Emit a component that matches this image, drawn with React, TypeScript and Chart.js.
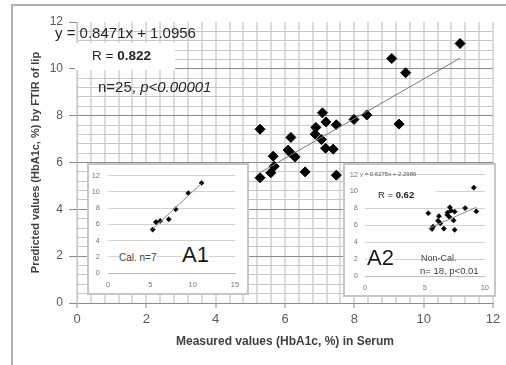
import React, { useEffect, useRef } from "react";
import { Chart, registerables } from "chart.js";

Chart.register(...registerables);

// ---- data ----
const CAL_SERUM = [5.28, 5.66, 6.16, 7.17, 7.99, 9.48, 11.05];
const CAL_FTIR = [5.35, 6.27, 6.41, 6.61, 7.84, 9.83, 11.08];

const NONCAL_SERUM = [5.28, 7.08, 7.18, 6.89, 7.48, 8.36, 6.17, 6.87, 7.05, 7.39, 6.29, 5.69, 5.59, 6.58, 7.48, 9.08, 9.29, 6.09];
const NONCAL_FTIR = [7.42, 8.12, 7.73, 7.5, 7.61, 8.03, 7.07, 7.21, 6.98, 6.57, 6.24, 5.84, 5.56, 5.6, 5.46, 10.44, 7.64, 6.53];

const MAIN_SLOPE = 0.8471;
const MAIN_INTERCEPT = 1.0956;
const NONCAL_SLOPE = 0.6275;
const NONCAL_INTERCEPT = 2.2986;

const MAIN_X_TICKS = [0, 2, 4, 6, 8, 10, 12];
const MAIN_Y_TICKS = [0, 2, 4, 6, 8, 10, 12];
const MAIN_MINOR_STEP = 0.4;
const A1_X_TICKS = [0, 5, 10, 15];
const A1_Y_TICKS = [0, 2, 4, 6, 8, 10, 12];
const A2_X_TICKS = [0, 5, 10];
const A2_Y_TICKS = [0, 2, 4, 6, 8, 10, 12];

const FONT = "'Liberation Sans', Arial, sans-serif";

// ---- helpers ----
const toPoints = (xs: number[], ys: number[]) => xs.map((x, i) => ({ x, y: ys[i] }));
const minorTicks = (max: number, step: number) => {
  const out: number[] = [];
  const n = Math.round(max / step);
  for (let i = 0; i <= n; i++) out.push(Math.round(i * step * 1000) / 1000);
  return out;
};
const fixedTicks = (values: number[]) => (scale: any) => {
  scale.ticks = values.map((v) => ({ value: v }));
};
const isIn = (arr: number[], v: number) => arr.some((a) => Math.abs(a - v) < 1e-9);
const fitLine = (xs: number[], slope: number, intercept: number) => {
  const lo = Math.min(...xs);
  const hi = Math.max(...xs);
  return [
    { x: lo, y: slope * lo + intercept },
    { x: hi, y: slope * hi + intercept },
  ];
};
const leastSquares = (xs: number[], ys: number[]) => {
  const n = xs.length;
  const mx = xs.reduce((a, b) => a + b, 0) / n;
  const my = ys.reduce((a, b) => a + b, 0) / n;
  let sxy = 0;
  let sxx = 0;
  for (let i = 0; i < n; i++) {
    sxy += (xs[i] - mx) * (ys[i] - my);
    sxx += (xs[i] - mx) * (xs[i] - mx);
  }
  const slope = sxy / sxx;
  return { slope, intercept: my - slope * mx };
};

function useChart(ref: React.RefObject<HTMLCanvasElement>, build: () => any) {
  useEffect(() => {
    if (!ref.current) return;
    const chart = new Chart(ref.current, build());
    return () => chart.destroy();
  }, []);
}

const MAIN_MINOR = minorTicks(12, MAIN_MINOR_STEP);

function MainChart() {
  const ref = useRef<HTMLCanvasElement>(null);
  useChart(ref, () => {
    const allX = [...NONCAL_SERUM, ...CAL_SERUM];
    const allY = [...NONCAL_FTIR, ...CAL_FTIR];
    return {
      type: "scatter",
      data: {
        datasets: [
          {
            data: fitLine(allX, MAIN_SLOPE, MAIN_INTERCEPT),
            showLine: true,
            borderColor: "#7a7a7a",
            borderWidth: 1,
            pointRadius: 0,
            fill: false,
          },
          {
            data: toPoints(allX, allY),
            pointStyle: "rectRot",
            pointRadius: 5,
            backgroundColor: "#000",
            borderColor: "#000",
            borderWidth: 1,
          },
        ],
      },
      options: {
        responsive: false,
        animation: false,
        devicePixelRatio: 1,
        layout: { padding: { left: 0, right: 13, top: 22, bottom: 0 } },
        plugins: { legend: { display: false }, tooltip: { enabled: false } },
        scales: {
          x: {
            type: "linear",
            min: 0,
            max: 12,
            afterBuildTicks: fixedTicks(MAIN_MINOR),
            afterFit: (s: any) => {
              s.height = 62;
            },
            ticks: {
              autoSkip: false,
              maxRotation: 0,
              padding: 4,
              color: "#5a5a5a",
              font: { family: FONT, size: 13 },
              callback: (v: number) => (isIn(MAIN_X_TICKS, v) ? String(v) : ""),
            },
            grid: {
              color: "#dcdcdc",
              lineWidth: 2,
              tickLength: 5,
              tickWidth: 1,
              tickColor: (c: any) => (c.tick && isIn(MAIN_X_TICKS, c.tick.value) ? "#8c8c8c" : "rgba(0,0,0,0)"),
            },
            border: { display: true, color: "#8c8c8c", width: 1 },
            title: {
              display: true,
              text: "Measured values (HbA1c, %) in Serum",
              color: "#404040",
              font: { family: FONT, size: 12, weight: "bold" },
              padding: { top: 0, bottom: 16 },
            },
          },
          y: {
            type: "linear",
            min: 0,
            max: 12,
            afterBuildTicks: fixedTicks(MAIN_MINOR),
            afterFit: (s: any) => {
              s.width = 77;
            },
            ticks: {
              autoSkip: false,
              padding: 6,
              color: "#5a5a5a",
              font: { family: FONT, size: 12 },
              callback: (v: number) => (isIn(MAIN_Y_TICKS, v) ? String(v) : ""),
            },
            grid: {
              color: (c: any) => {
                const v = c.tick ? c.tick.value : 0;
                if (Math.abs(v - 12) < 1e-9) return "rgba(0,0,0,0)";
                return isIn(MAIN_Y_TICKS, v) ? "#8c8c8c" : "#c8c8c8";
              },
              lineWidth: 1,
              tickLength: 8,
              tickWidth: 1,
              tickColor: (c: any) => (c.tick && isIn(MAIN_Y_TICKS, c.tick.value) ? "#8c8c8c" : "rgba(0,0,0,0)"),
            },
            border: { display: true, color: "#c4c4c4", width: 1 },
            title: {
              display: true,
              text: "Predicted values (HbA1c, %) by FTIR of lip",
              color: "#404040",
              font: { family: FONT, size: 11, weight: "bold" },
              padding: { top: 29, bottom: 0 },
            },
          },
        },
      },
    };
  });
  return <canvas ref={ref} width={506} height={365} style={{ position: "absolute", left: 0, top: 0, width: 506, height: 365 }} />;
}

function insetConfig(
  xs: number[],
  ys: number[],
  line: { x: number; y: number }[],
  xMax: number,
  xTicks: number[],
  yTicks: number[],
  pad: { right: number; top: number },
  yWidth: number,
  xHeight: number,
  yPad: number,
  xPad: number
) {
  return {
    type: "scatter",
    data: {
      datasets: [
        {
          data: line,
          showLine: true,
          borderColor: "#8a8a8a",
          borderWidth: 1,
          pointRadius: 0,
          fill: false,
        },
        {
          data: toPoints(xs, ys),
          pointStyle: "rectRot",
          pointRadius: 2.6,
          backgroundColor: "#000",
          borderColor: "#000",
          borderWidth: 0.5,
        },
      ],
    },
    options: {
      responsive: false,
      animation: false,
      devicePixelRatio: 1,
      layout: { padding: { left: 0, right: pad.right, top: pad.top, bottom: 0 } },
      plugins: { legend: { display: false }, tooltip: { enabled: false } },
      scales: {
        x: {
          type: "linear",
          min: 0,
          max: xMax,
          afterBuildTicks: fixedTicks(xTicks),
          afterFit: (s: any) => {
            s.height = xHeight;
          },
          ticks: {
            autoSkip: false,
            maxRotation: 0,
            padding: xPad,
            color: "#7a7a7a",
            font: { family: FONT, size: 7.5 },
          },
          grid: { display: false, drawTicks: false },
          border: { display: true, color: "#bdbdbd", width: 1 },
        },
        y: {
          type: "linear",
          min: 0,
          max: 12,
          afterBuildTicks: fixedTicks(yTicks),
          afterFit: (s: any) => {
            s.width = yWidth;
          },
          ticks: {
            autoSkip: false,
            padding: yPad,
            color: "#7a7a7a",
            font: { family: FONT, size: 7.5 },
          },
          grid: {
            drawTicks: false,
            color: (c: any) => (c.tick && c.tick.value === 0 ? "rgba(0,0,0,0)" : "#d2d2d2"),
            lineWidth: 1,
          },
          border: { display: false },
        },
      },
    },
  };
}

function InsetA1() {
  const ref = useRef<HTMLCanvasElement>(null);
  useChart(ref, () => {
    const fit = leastSquares(CAL_SERUM, CAL_FTIR);
    return insetConfig(
      CAL_SERUM,
      CAL_FTIR,
      fitLine(CAL_SERUM, fit.slope, fit.intercept),
      15,
      A1_X_TICKS,
      A1_Y_TICKS,
      { right: 14, top: 10 },
      21,
      22,
      8,
      7
    );
  });
  return <canvas ref={ref} width={162} height={132} style={{ position: "absolute", left: 0, top: 0, width: 162, height: 132 }} />;
}

function InsetA2() {
  const ref = useRef<HTMLCanvasElement>(null);
  useChart(ref, () =>
    insetConfig(
      NONCAL_SERUM,
      NONCAL_FTIR,
      fitLine(NONCAL_SERUM, NONCAL_SLOPE, NONCAL_INTERCEPT),
      10,
      A2_X_TICKS,
      A2_Y_TICKS,
      { right: 6, top: 11 },
      22,
      21,
      7,
      7
    )
  );
  return <canvas ref={ref} width={153} height={134} style={{ position: "absolute", left: 0, top: 0, width: 153, height: 134 }} />;
}

function Txt(props: { x: number; cy: number; size: number; color?: string; bg?: string; children: React.ReactNode; style?: any }) {
  const { x, cy, size, color, bg, children, style } = props;
  return (
    <div
      style={{
        position: "absolute",
        left: x,
        top: cy - size * 0.6,
        fontSize: size,
        lineHeight: `${size * 1.2}px`,
        whiteSpace: "nowrap",
        color: color || "#262626",
        background: bg,
        fontFamily: FONT,
        ...style,
      }}
    >
      {children}
    </div>
  );
}

const box = (left: number, top: number, width: number, height: number, extra: any = {}) => ({
  position: "absolute" as const,
  left,
  top,
  width,
  height,
  ...extra,
});

export default function App() {
  return (
    <div style={{ position: "fixed", left: 0, top: 0, width: 506, height: 365, background: "#fff", overflow: "hidden", fontFamily: FONT }}>
      <MainChart />
      {/* outer frame */}
      <div style={box(11, 4, 520, 380, { borderLeft: "2px solid #b0b0b0", borderTop: "2px solid #b0b0b0", boxSizing: "border-box" })} />

      {/* main annotations */}
      <Txt x={55} cy={33} size={15}>
        y = 0.8471x + 1.0956
      </Txt>
      <div style={box(75, 43, 100, 27, { background: "#fff" })} />
      <Txt x={92} cy={56} size={13.5}>
        R = <b>0.822</b>
      </Txt>
      <Txt x={98} cy={87} size={15}>
        n=25, <i>p&lt;0.00001</i>
      </Txt>

      {/* inset A1 */}
      <div style={box(87, 163, 162, 132, { background: "#fff" })}>
        <InsetA1 />
        <div style={box(0, 0, 162, 132, { border: "2px solid #c6c6c6", boxSizing: "border-box" })} />
      </div>
      <Txt x={119} cy={258} size={10} bg="#fff" color="#404040">
        Cal. n=7
      </Txt>
      <Txt x={182} cy={255} size={22} bg="#fff" color="#1a1a1a">
        A1
      </Txt>

      {/* inset A2 */}
      <div style={box(343, 163, 153, 134, { background: "#fff" })}>
        <InsetA2 />
        <div style={box(0, 0, 153, 134, { border: "2px solid #c6c6c6", boxSizing: "border-box" })} />
      </div>
      <Txt x={360} cy={175} size={6} color="#595959">
        y = 0.6275x + 2.2986
      </Txt>
      <div style={box(364, 183, 72, 18, { background: "#fff" })} />
      <Txt x={378} cy={194.5} size={9.5} color="#262626">
        R = <b>0.62</b>
      </Txt>
      <Txt x={367} cy={258} size={22} bg="#fff" color="#1a1a1a">
        A2
      </Txt>
      <Txt x={421} cy={258} size={9} color="#404040">
        Non-Cal.
      </Txt>
      <Txt x={420} cy={271} size={9.5} color="#404040">
        n= 18, p&lt;0.01
      </Txt>
    </div>
  );
}
